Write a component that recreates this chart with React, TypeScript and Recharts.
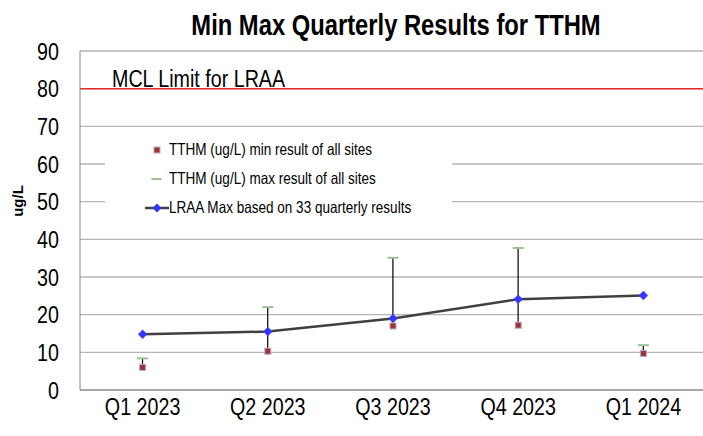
import { Bar, ComposedChart, Line, XAxis, YAxis, CartesianGrid, ReferenceLine, Legend, Label } from "recharts"

// Quarterly TTHM results (ug/L)
const quarters = ["Q1 2023", "Q2 2023", "Q3 2023", "Q4 2023", "Q1 2024"]
const minResults = [6.0, 10.3, 17.0, 17.2, 9.7]
const maxResults = [8.4, 22.0, 35.1, 37.7, 11.9]
const lraaMax = [14.8, 15.5, 19.0, 24.1, 25.1]
const yTicks = [0, 10, 20, 30, 40, 50, 60, 70, 80, 90]
const mclLimit = 80

const data = quarters.map((q, i) => ({
  quarter: q,
  min: minResults[i],
  max: maxResults[i],
  range: [minResults[i], maxResults[i]],
  lraa: lraaMax[i],
}))

// no narrow font installed, so squeeze Liberation Sans horizontally
const FONT = "'Liberation Sans', Arial, sans-serif"
const NARROW = 0.82

const NarrowText = ({ x, y, anchor, size, children, bold }: any) => (
  <text
    transform={`translate(${x},${y}) scale(${NARROW},1)`}
    textAnchor={anchor}
    fontSize={size}
    fontFamily={FONT}
    fontWeight={bold ? "bold" : "normal"}
    fill="#000"
  >
    {children}
  </text>
)

const XTick = ({ x, y, payload }: any) => (
  <NarrowText x={x} y={y + 17} anchor="middle" size={24}>
    {payload.value}
  </NarrowText>
)

const YTick = ({ x, y, payload }: any) => (
  <NarrowText x={x} y={y + 8.5} anchor="end" size={24}>
    {payload.value}
  </NarrowText>
)

const MinSquare = ({ cx, cy }: any) => (
  <rect x={cx - 3} y={cy - 3} width={6} height={6} fill="#9b3336" stroke="#b9a8c8" strokeWidth={1} />
)

const MaxDash = ({ cx, cy }: any) => (
  <rect x={cx - 5.5} y={cy - 1} width={11} height={2} fill="#9fbf98" />
)

const Diamond = ({ cx, cy }: any) => (
  <path d={`M${cx},${cy - 4.5} L${cx + 4.5},${cy} L${cx},${cy + 4.5} L${cx - 4.5},${cy} Z`} fill="#3535ff" stroke="#5555ff" strokeWidth={0.5} />
)

const HighLow = ({ x, y, width, height }: any) => {
  const cx = x + width / 2
  return <line x1={cx} x2={cx} y1={y} y2={y + height} stroke="#000" strokeWidth={1.2} />
}

function LegendBox() {
  const row = { display: "flex", alignItems: "center", height: 29, fontSize: 16.5, color: "#000" } as const
  const icon = { flexShrink: 0 } as const
  const label = { display: "inline-block", whiteSpace: "nowrap", transform: `scaleX(${NARROW})`, transformOrigin: "left center" } as const
  return (
    <div style={{ fontFamily: FONT, paddingTop: 3, background: "#fff", overflow: "hidden" }}>
      <div style={row}>
        <svg width={64} height={12} style={icon}><rect x={49} y={3} width={6} height={6} fill="#9b3336" stroke="#b9a8c8" /></svg>
        <span style={label}>TTHM (ug/L) min result of all sites</span>
      </div>
      <div style={row}>
        <svg width={64} height={12} style={icon}><rect x={46.5} y={5} width={10} height={2} fill="#9fbf98" /></svg>
        <span style={label}>TTHM (ug/L) max result of all sites</span>
      </div>
      <div style={row}>
        <svg width={64} height={12} style={icon}>
          <line x1={40} x2={64} y1={6} y2={6} stroke="#404040" strokeWidth={2.5} />
          <path d="M52,1.5 L56.5,6 L52,10.5 L47.5,6 Z" fill="#3535ff" />
        </svg>
        <span style={label}>LRAA Max based on 33 quarterly results</span>
      </div>
    </div>
  )
}

export default function App() {
  return (
    <div style={{ position: "absolute", left: 0, top: 0, width: 703, height: 436, overflow: "hidden", background: "#fff" }}>
      <svg width={703} height={45} style={{ position: "absolute", left: 0, top: 0 }}>
        <NarrowText x={396} y={34.5} anchor="middle" size={29} bold>
          Min Max Quarterly Results for TTHM
        </NarrowText>
      </svg>
      <ComposedChart width={706} height={436} data={data} margin={{ top: 51, right: 0, bottom: 16, left: 0 }}>
        <CartesianGrid vertical={false} stroke="#b5b5b5" strokeWidth={1.3} />
        <XAxis
          dataKey="quarter"
          height={30}
          tickLine={false}
          axisLine={{ stroke: "#888" }}
          tick={<XTick />}
        />
        <YAxis
          width={80}
          domain={[0, 90]}
          ticks={yTicks}
          interval={0}
          tickLine={false}
          axisLine={{ stroke: "#888" }}
          tickMargin={15}
          tick={<YTick />}
        >
          <Label
            content={() => (
              <text
                x={23}
                y={201}
                transform="rotate(-90, 23, 201)"
                textAnchor="middle"
                fontSize={15}
                fontWeight="bold"
                fontFamily={FONT}
                fill="#000"
              >
                ug/L
              </text>
            )}
          />
        </YAxis>
        <ReferenceLine
          y={mclLimit}
          stroke="#e8262a"
          strokeWidth={1.5}
          label={(props: any) => (
            <NarrowText x={props.viewBox.x + 32} y={props.viewBox.y - 2} anchor="start" size={24}>
              MCL Limit for LRAA
            </NarrowText>
          )}
        />
        <Legend
          layout="horizontal"
          verticalAlign="middle"
          align="center"
          content={() => <LegendBox />}
          wrapperStyle={{ left: 105, top: 132, width: 347, height: 92, background: "#fff" }}
        />
        <Bar dataKey="range" shape={<HighLow />} isAnimationActive={false} legendType="none" />
        <Line
          dataKey="lraa"
          stroke="#404040"
          strokeWidth={2.5}
          dot={(p: any) => <Diamond key={p.index} {...p} />}
          isAnimationActive={false}
        />
        <Line dataKey="min" stroke="none" dot={(p: any) => <MinSquare key={p.index} {...p} />} isAnimationActive={false} />
        <Line dataKey="max" stroke="none" dot={(p: any) => <MaxDash key={p.index} {...p} />} isAnimationActive={false} />
      </ComposedChart>
    </div>
  )
}
